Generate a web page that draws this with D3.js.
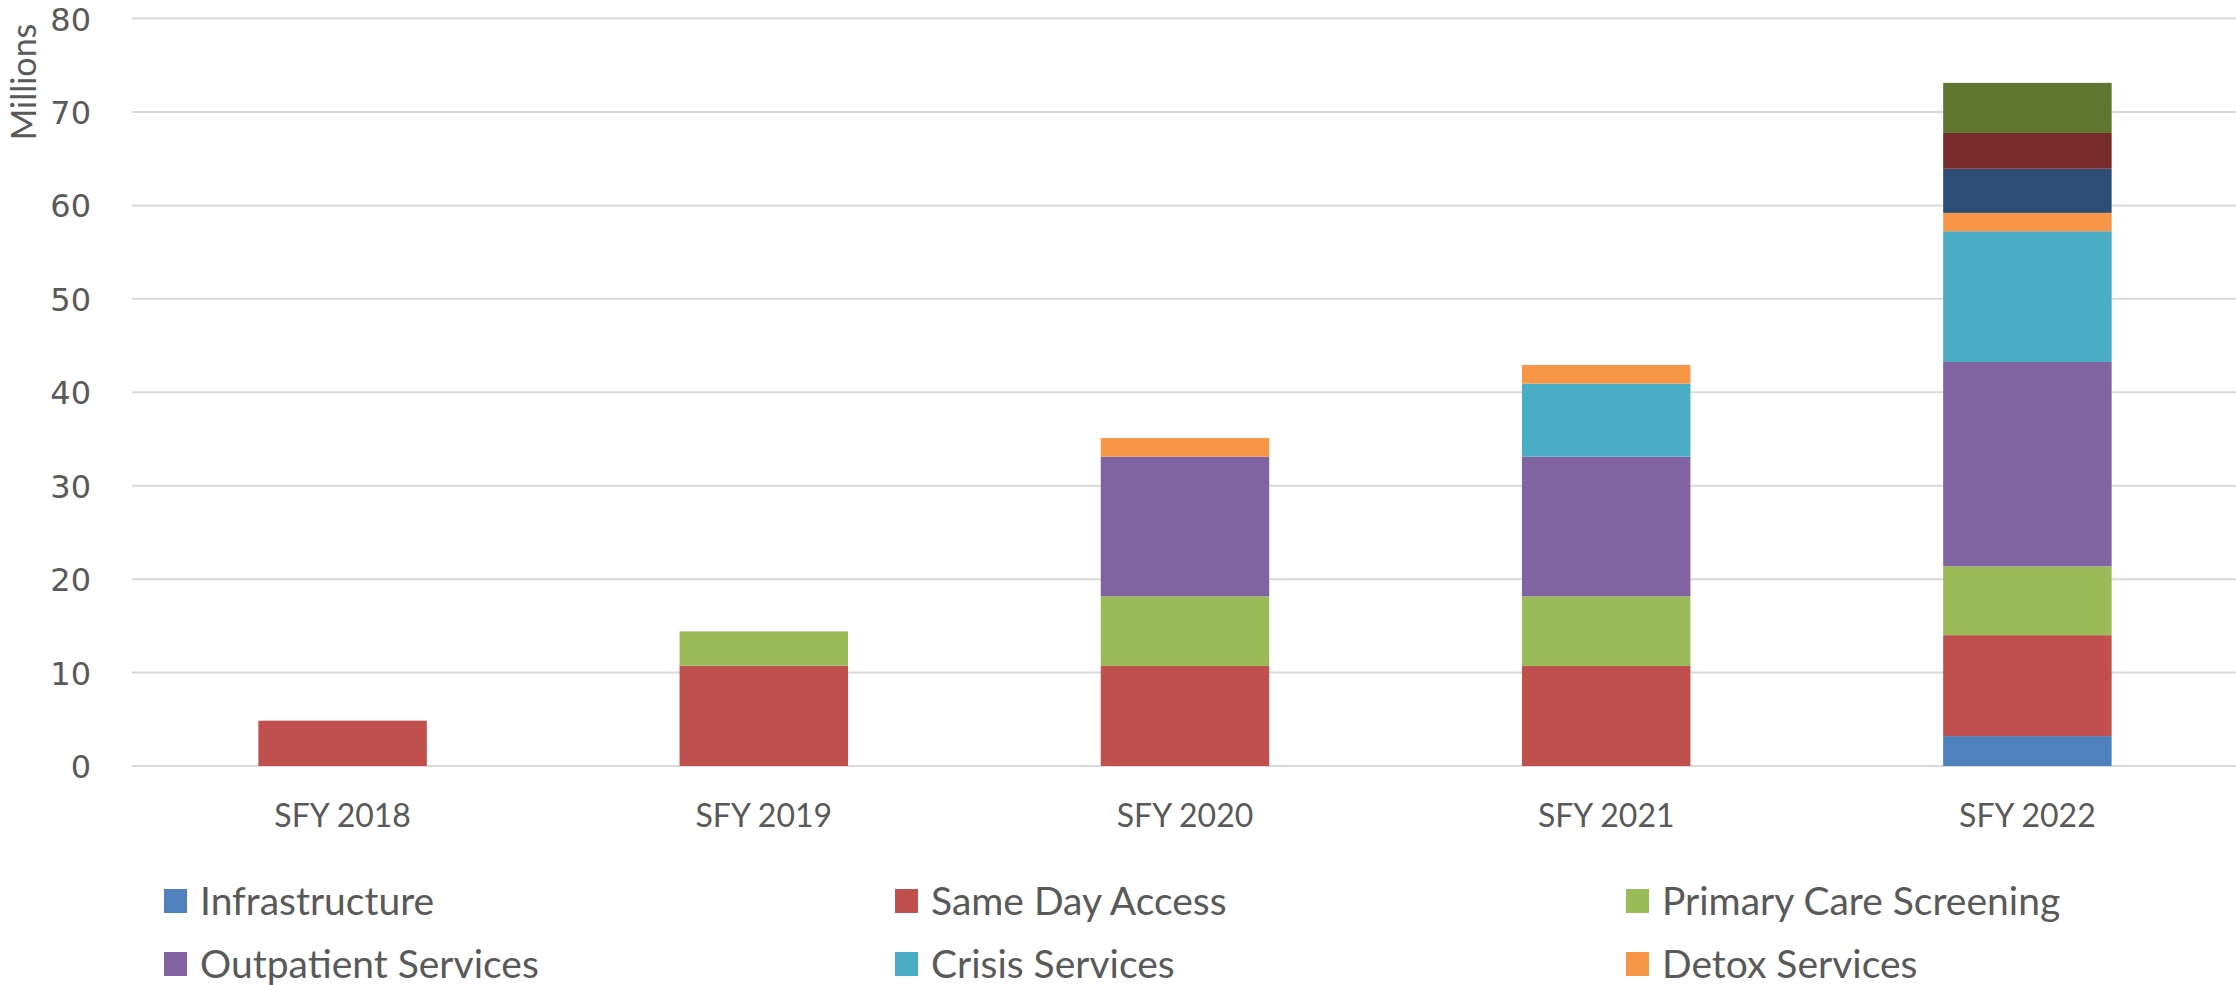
<!DOCTYPE html>
<html>
<head>
<meta charset="utf-8">
<script src="https://cdn.jsdelivr.net/npm/d3@7"></script>
<style>
  body { margin: 0; background: #fff; }
</style>
</head>
<body>
<svg id="chart"></svg>
<script>
// categories and series (millions)
var categories = ["SFY 2018", "SFY 2019", "SFY 2020", "SFY 2021", "SFY 2022"]
var infrastructure = [0, 0, 0, 0, 3.2]
var sameDayAccess = [4.85, 10.73, 10.7, 10.7, 10.8]
var primaryCareScreening = [0, 3.68, 7.46, 7.46, 7.37]
var outpatientServices = [0, 0, 14.95, 14.95, 21.87]
var crisisServices = [0, 0, 0, 7.81, 13.99]
var detoxServices = [0, 0, 1.99, 2.0, 1.97]
var series7 = [0, 0, 0, 0, 4.72]
var series8 = [0, 0, 0, 0, 3.83]
var series9 = [0, 0, 0, 0, 5.36]
var yTicks = [0, 10, 20, 30, 40, 50, 60, 70, 80]

var seriesNames = ["Infrastructure", "Same Day Access", "Primary Care Screening",
  "Outpatient Services", "Crisis Services", "Detox Services", "Series 7", "Series 8", "Series 9"]
var seriesValues = [infrastructure, sameDayAccess, primaryCareScreening,
  outpatientServices, crisisServices, detoxServices, series7, series8, series9]
var colors = ["#4F81BD", "#C0504D", "#9BBB59", "#8064A2", "#4BACC6", "#F79646",
  "#2C4D75", "#772C2A", "#5F7530"]
var legendCount = 6

var dimensions = {
  width: 2236,
  height: 985,
  margin: { top: 18.5, bottom: 219, left: 132, right: -2 }
}

var table = categories.map(function(c, i) {
  var row = { category: c }
  seriesNames.forEach(function(s, j) { row[s] = seriesValues[j][i] })
  return row
})

var stacked = d3.stack().keys(seriesNames)(table)

var svg = d3.select("#chart")
  .attr("width", dimensions.width)
  .attr("height", dimensions.height)

var xScale = d3.scaleBand()
  .domain(categories)
  .range([dimensions.margin.left, dimensions.width - dimensions.margin.right])
  .paddingInner(0.6)
  .paddingOuter(0.3)

var yScale = d3.scaleLinear()
  .domain([0, 80])
  .range([dimensions.height - dimensions.margin.bottom, dimensions.margin.top])

// gridlines
svg.append("g")
  .selectAll("line")
  .data(yTicks)
  .enter()
  .append("line")
  .attr("x1", dimensions.margin.left)
  .attr("x2", dimensions.width)
  .attr("y1", d => yScale(d))
  .attr("y2", d => yScale(d))
  .attr("stroke", "#D9D9D9")
  .attr("stroke-width", 2)

// bars
svg.append("g")
  .selectAll("g")
  .data(stacked)
  .enter()
  .append("g")
  .attr("fill", (d, i) => colors[i])
  .selectAll("rect")
  .data(d => d.filter(p => p[1] - p[0] > 0))
  .enter()
  .append("rect")
  .attr("x", d => xScale(d.data.category))
  .attr("width", xScale.bandwidth())
  .attr("y", d => yScale(d[1]))
  .attr("height", d => yScale(d[0]) - yScale(d[1]))

// y axis
var yAxis = d3.axisLeft(yScale).tickValues(yTicks).tickSize(0).tickPadding(0)
var yAxisG = svg.append("g")
  .attr("transform", "translate(91,0)")
  .call(yAxis)
yAxisG.select(".domain").remove()
yAxisG.selectAll("text")
  .attr("fill", "#595959")
  .style("font-family", "DejaVu Sans")
  .style("font-size", "32px")
  .attr("dy", "0.36em")

// x axis
var xAxis = d3.axisBottom(xScale).tickSize(0).tickPadding(0)
var xAxisG = svg.append("g")
  .attr("transform", "translate(0," + 815 + ")")
  .call(xAxis)
xAxisG.select(".domain").remove()
xAxisG.selectAll("text")
  .attr("fill", "#595959")
  .attr("dy", "0.36em")
  .style("font-family", "Lato")
  .style("font-size", "32px")

// y title
svg.append("text")
  .attr("transform", "translate(36,82) rotate(-90)")
  .attr("text-anchor", "middle")
  .attr("fill", "#595959")
  .style("font-family", "Lato")
  .style("font-size", "34px")
  .text("Millions")

// legend
var legend = svg.append("g")
  .selectAll("g")
  .data(seriesNames.slice(0, legendCount))
  .enter()
  .append("g")
  .attr("transform", (d, i) => "translate(" + (164 + (i % 3) * 731) + "," + (901 + Math.floor(i / 3) * 63) + ")")

legend.append("rect")
  .attr("x", 0)
  .attr("y", -12)
  .attr("width", 23)
  .attr("height", 24)
  .attr("fill", (d, i) => colors[i])

legend.append("text")
  .attr("x", 36)
  .attr("dy", "0.36em")
  .attr("fill", "#595959")
  .style("font-family", "Lato")
  .style("font-size", "39px")
  .text(d => d)
</script>
</body>
</html>
